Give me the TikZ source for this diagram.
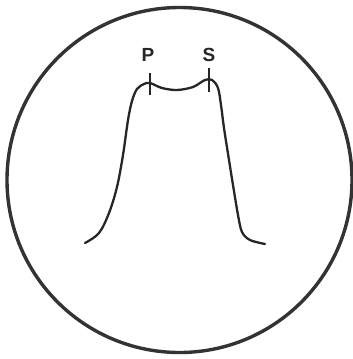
\documentclass[tikz,border=0pt]{standalone}
\usepackage{fontspec}
\setmainfont{Liberation Sans}
\begin{document}
\begin{tikzpicture}[x=1pt,y=-1pt,
  rim/.style={line width=3.4pt,draw=black!80},
  trace/.style={line width=2.3pt,draw=black!85,line cap=round,line join=round},
  tickmark/.style={line width=1.4pt,draw=black!85},
  lbl/.style={font=\fontsize{19}{19}\selectfont\bfseries,text=black!85,inner sep=0pt}]
\useasboundingbox (0,0) rectangle (353,359);
\draw[rim] (179.5,180) circle (172.5);
\draw[trace] plot[smooth,tension=0.55] coordinates {(85,243) (99,233) (109,213) (117,187) (123,155) (128,120) (132,101) (137,89) (144,84) (150,83) (162,88) (177,90) (193,87) (205,80) (212,80) (218,88) (221,105) (224,128) (229,160) (233,185) (238,215) (242,232) (250,240) (265,244)};
\coordinate (p) at (150,84);
\coordinate (s) at (209,80);
\draw[tickmark] ([yshift=-11]p) -- ([yshift=11]p);
\draw[tickmark] ([yshift=-12]s) -- ([yshift=12]s);
\node[lbl] (P) at (148,55) {P};
\node[lbl] (S) at (209,55) {S};
\end{tikzpicture}
\end{document}
